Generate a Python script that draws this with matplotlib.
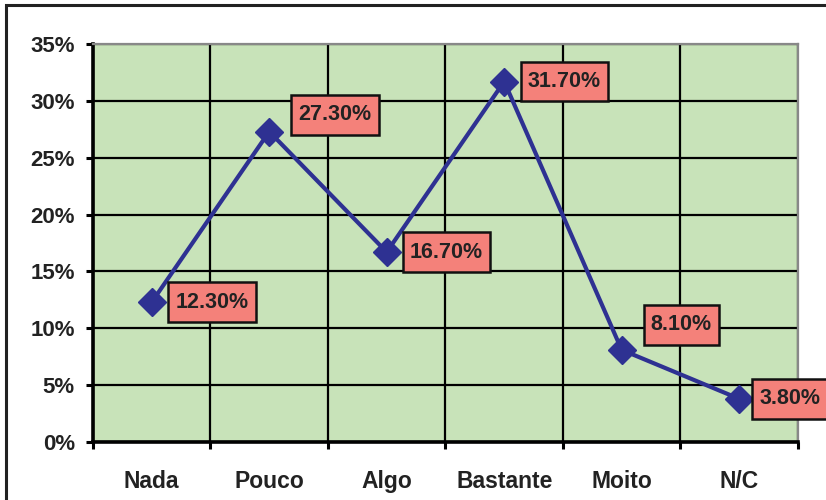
import numpy as np
import matplotlib
matplotlib.use("Agg")
from matplotlib import pyplot as plt
from matplotlib.patches import Rectangle
from matplotlib.path import Path

categories = ["Nada", "Pouco", "Algo", "Bastante", "Moito", "N/C"]
values = [12.3, 27.3, 16.7, 31.7, 8.1, 3.8]
labels = ["12.30%", "27.30%", "16.70%", "31.70%", "8.10%", "3.80%"]
yticks = [0, 5, 10, 15, 20, 25, 30, 35]
ytick_labels = ["0%", "5%", "10%", "15%", "20%", "25%", "30%", "35%"]

# label offsets in points (dx, dy)
label_offsets = [(17, 0), (21, 12), (16.5, 0), (17, 0), (21, 18), (14.5, 0)]

plt.rcParams['font.family'] = ['Liberation Sans', 'DejaVu Sans']


def label_box(x0, y0, width, height, mutation_size):
    # wider vertical padding than horizontal, like the original boxes
    px = 0.33 * mutation_size
    py = 0.44 * mutation_size
    x0, y0 = x0 - px, y0 - py
    x1, y1 = x0 + width + 2 * px, y0 + height + 2 * py
    return Path([(x0, y0), (x1, y0), (x1, y1), (x0, y1), (x0, y0)],
                closed=True)


fig = plt.figure(figsize=(8.26, 5), dpi=100)
ax = fig.add_axes([0.1126, 0.116, 0.8534, 0.796])

# outer frame
fig.patches.append(Rectangle((0.007, -0.1), 1.2, 1.091, transform=fig.transFigure,
                             fill=False, edgecolor="#222222", linewidth=2.2))

ax.set_facecolor("#C8E3B9")
x = np.arange(len(categories))
ax.plot(x, values, color="#2E3192", linewidth=3, marker="D", markersize=14,
        zorder=3, clip_on=False)

for xi, v, lab, off in zip(x, values, labels, label_offsets):
    ax.annotate(lab, (xi, v), xytext=off, textcoords="offset points",
                ha="left", va="center", fontsize=15.5, fontweight="bold",
                color="#222222", zorder=4, annotation_clip=False,
                bbox=dict(boxstyle=label_box, facecolor="#F4817A",
                          edgecolor="#111111", linewidth=1.8))

ax.set_xlim(-0.5, len(categories) - 0.5)
ax.set_ylim(0, 35)
ax.set_yticks(yticks)
ax.set_yticklabels(ytick_labels, fontsize=16, fontweight="bold", color="#222222")
ax.set_xticks(x)
ax.set_xticklabels(categories, fontsize=16.5, fontweight="bold", color="#222222")
ax.set_xticks(np.arange(-0.5, len(categories)), minor=True)

ax.tick_params(axis="x", which="major", length=0, pad=20)
ax.tick_params(axis="x", which="minor", length=5, width=2.2, color="black")
ax.tick_params(axis="y", length=5, width=2.2, color="black", pad=8)

ax.grid(axis="y", which="major", color="black", linewidth=1.6)
ax.grid(axis="x", which="minor", color="black", linewidth=1.6)
ax.set_axisbelow(True)

for side in ["left", "bottom"]:
    ax.spines[side].set_color("black")
    ax.spines[side].set_linewidth(2.6)
for side in ["top", "right"]:
    ax.spines[side].set_color("#888888")
    ax.spines[side].set_linewidth(1.6)

fig.savefig("out.png", dpi=100)
